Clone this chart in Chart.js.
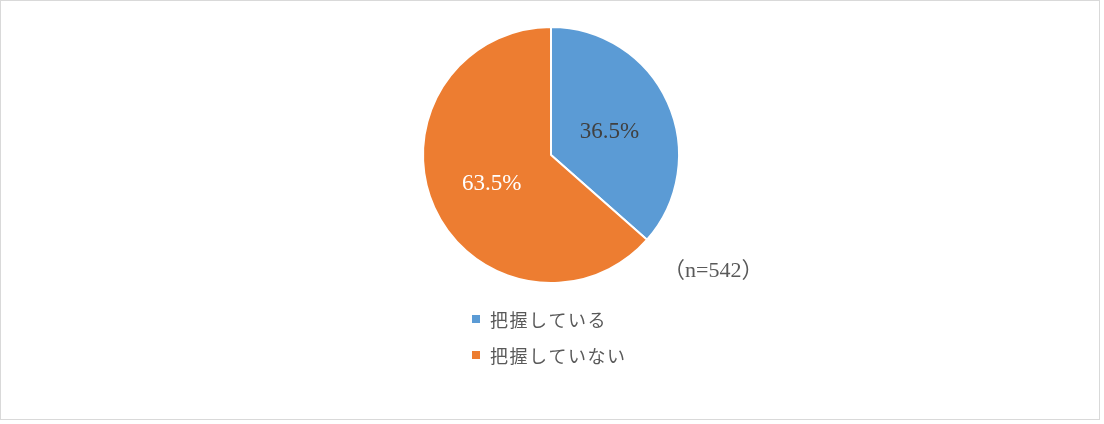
<!DOCTYPE html>
<html>
<head>
<meta charset="utf-8">
<script src="https://cdn.jsdelivr.net/npm/chart.js@4/dist/chart.umd.min.js"></script>
<style>
  html, body { margin: 0; padding: 0; background: #fff; }
  #wrap { width: 1104px; height: 424px; position: relative; }
</style>
</head>
<body>
<div id="wrap"><canvas id="grafico" width="1104" height="424"></canvas></div>
<script>
// dados do gráfico
const categorias = ["把握している", "把握していない"];
const valores = [36.5, 63.5];
const cores = ["#5B9BD5", "#ED7D31"];
const corRotulo = ["#404040", "#ffffff"];
const nota = "（n=542）";

const ctx = document.getElementById("grafico").getContext("2d");

// rótulos, legenda e moldura desenhados à mão
const extras = {
  id: "extras",
  afterDatasetsDraw(chart) {
    const c = chart.ctx;
    const meta = chart.getDatasetMeta(0);
    c.save();
    c.font = "23px 'Liberation Serif', serif";
    c.textAlign = "center";
    c.textBaseline = "middle";
    meta.data.forEach((arc, i) => {
      const p = arc.tooltipPosition();
      c.fillStyle = corRotulo[i];
      c.fillText(valores[i].toFixed(1) + "%", p.x - i, p.y + 3);
    });

    // legenda
    c.textAlign = "left";
    c.font = "18px 'Noto Sans CJK JP', sans-serif";
    c.letterSpacing = "1.5px";
    categorias.forEach((cat, i) => {
      const y = 319 + i * 36;
      c.fillStyle = cores[i];
      c.fillRect(472, y - 4, 8, 8);
      c.fillStyle = "#595959";
      c.fillText(cat, 490, y + 1);
    });
    c.letterSpacing = "0px";

    c.font = "22px 'Liberation Serif', 'Noto Sans CJK JP', serif";
    c.fillStyle = "#595959";
    c.fillText(nota, 663, 271);

    // moldura
    c.strokeStyle = "#d9d9d9";
    c.lineWidth = 1;
    c.strokeRect(0.5, 0.5, 1099, 419);
    c.restore();
  }
};

const grafico = new Chart(ctx, {
  type: "pie",
  data: {
    labels: categorias,
    datasets: [{
      data: valores,
      backgroundColor: cores,
      borderColor: "#ffffff",
      borderWidth: 2
    }]
  },
  options: {
    responsive: false,
    animation: false,
    layout: { padding: { top: 26, bottom: 140, left: 422, right: 424 } },
    plugins: {
      legend: { display: false },
      tooltip: { enabled: false }
    }
  },
  plugins: [extras]
});
</script>
</body>
</html>
